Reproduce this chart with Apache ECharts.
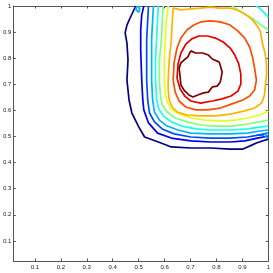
<!DOCTYPE html>
<html><head><meta charset="utf-8">
<script src="https://cdn.jsdelivr.net/npm/echarts@6/dist/echarts.min.js"></script>
<style>html,body{margin:0;padding:0;background:#fff}#c{width:273px;height:273px}</style>
</head><body><div id="c"></div>
<script>
// Tick values
const xTickValues = [0.1,0.2,0.3,0.4,0.5,0.6,0.7,0.8,0.9,1];
const yTickValues = [0.1,0.2,0.3,0.4,0.5,0.6,0.7,0.8,0.9,1];
// Contour level colours (jet, outer -> inner)
const levelColors = ['#000080','#0000e6','#004cff','#00b3ff','#1affe6','#80ff80','#e6ff1a','#ffb300','#ff4d00','#e60000','#800000'];

// Contour lines, [x, y]
const c1 = [[0.489,1.0],[0.478,0.977],[0.467,0.954],[0.455,0.927],[0.448,0.897],[0.455,0.858],[0.459,0.793],[0.455,0.716],[0.463,0.640],[0.474,0.590],[0.501,0.536],[0.523,0.498],[0.576,0.479],[0.626,0.460],[0.701,0.456],[0.777,0.456],[0.853,0.452],[0.902,0.452],[0.920,0.460],[0.936,0.467],[0.954,0.475],[0.977,0.483],[1.0,0.490]];
const c2 = [[0.520,1.0],[0.512,0.966],[0.508,0.908],[0.508,0.831],[0.512,0.716],[0.516,0.640],[0.520,0.602],[0.538,0.552],[0.573,0.513],[0.626,0.494],[0.701,0.483],[0.777,0.479],[0.853,0.479],[0.909,0.483],[0.958,0.494],[1.0,0.502]];
const c3 = [[0.538,1.0],[0.535,0.946],[0.531,0.870],[0.531,0.793],[0.531,0.716],[0.535,0.640],[0.542,0.590],[0.561,0.556],[0.591,0.529],[0.637,0.510],[0.701,0.498],[0.777,0.494],[0.853,0.494],[0.920,0.498],[0.966,0.506],[1.0,0.513]];
const c3b = [[0.958,0.506],[0.983,0.506]];
const c4 = [[0.557,1.0],[0.554,0.946],[0.550,0.870],[0.550,0.793],[0.550,0.716],[0.554,0.640],[0.561,0.594],[0.580,0.563],[0.610,0.540],[0.652,0.525],[0.701,0.513],[0.777,0.510],[0.853,0.510],[0.920,0.513],[0.966,0.521],[1.0,0.525]];
const c4b = [[0.491,0.996],[0.500,0.998],[0.504,0.988],[0.500,0.975],[0.493,0.977],[0.490,0.987],[0.491,0.996]];
const c4c = [[1.0,0.515],[0.990,0.513],[0.984,0.506],[0.990,0.498],[1.0,0.496]];
const c5 = [[0.576,1.0],[0.573,0.946],[0.569,0.870],[0.565,0.793],[0.565,0.716],[0.569,0.648],[0.576,0.609],[0.595,0.579],[0.626,0.556],[0.667,0.540],[0.720,0.529],[0.777,0.525],[0.853,0.525],[0.920,0.529],[0.966,0.536],[1.0,0.540]];
const c5b = [[0.954,1.0],[0.974,0.985],[0.989,0.969],[1.0,0.958]];
const c6 = [[0.595,1.0],[0.591,0.946],[0.588,0.870],[0.580,0.793],[0.580,0.716],[0.584,0.655],[0.591,0.621],[0.610,0.594],[0.641,0.571],[0.686,0.556],[0.739,0.544],[0.796,0.540],[0.860,0.540],[0.920,0.548],[0.966,0.556],[1.0,0.563]];
const c6b = [[0.860,1.0],[0.883,0.985],[0.909,0.969],[0.936,0.954],[0.966,0.931],[1.0,0.908]];
const c7 = [[0.614,1.0],[0.607,0.946],[0.603,0.870],[0.599,0.793],[0.599,0.716],[0.603,0.663],[0.610,0.632],[0.626,0.605],[0.656,0.586],[0.701,0.571],[0.758,0.563],[0.815,0.559],[0.871,0.563],[0.920,0.571],[0.966,0.582],[1.0,0.598]];
const c8 = [[0.633,0.992],[0.663,0.985],[0.701,0.989],[0.739,0.992],[0.777,0.996],[0.815,0.992],[0.853,0.992],[0.879,0.985],[0.902,0.973],[0.920,0.962],[0.939,0.946],[0.958,0.923],[0.970,0.900],[0.977,0.858],[0.989,0.812],[0.993,0.774],[0.993,0.736],[0.989,0.697],[0.985,0.659],[0.974,0.628],[0.947,0.609],[0.909,0.598],[0.853,0.586],[0.796,0.579],[0.739,0.579],[0.686,0.582],[0.648,0.594],[0.629,0.613],[0.618,0.640],[0.614,0.678],[0.614,0.716],[0.618,0.793],[0.626,0.870],[0.629,0.927],[0.633,0.992]];
const c9 = [[0.633,0.716],[0.637,0.785],[0.648,0.839],[0.663,0.877],[0.686,0.908],[0.713,0.927],[0.739,0.939],[0.777,0.943],[0.815,0.939],[0.853,0.927],[0.883,0.904],[0.909,0.877],[0.928,0.843],[0.939,0.805],[0.947,0.762],[0.954,0.716],[0.947,0.678],[0.928,0.655],[0.902,0.640],[0.860,0.625],[0.815,0.609],[0.766,0.602],[0.720,0.602],[0.682,0.613],[0.656,0.636],[0.641,0.670],[0.633,0.716]];
const c10 = [[0.648,0.724],[0.652,0.778],[0.663,0.820],[0.682,0.854],[0.705,0.874],[0.732,0.885],[0.766,0.885],[0.796,0.877],[0.826,0.862],[0.853,0.839],[0.871,0.812],[0.886,0.778],[0.894,0.739],[0.894,0.701],[0.883,0.674],[0.856,0.655],[0.822,0.644],[0.784,0.636],[0.739,0.628],[0.701,0.636],[0.678,0.655],[0.660,0.682],[0.648,0.724]];
const c11 = [[0.701,0.828],[0.720,0.820],[0.747,0.820],[0.769,0.812],[0.784,0.797],[0.811,0.785],[0.822,0.747],[0.815,0.709],[0.803,0.693],[0.784,0.690],[0.769,0.670],[0.750,0.667],[0.728,0.659],[0.709,0.651],[0.694,0.659],[0.675,0.678],[0.663,0.697],[0.660,0.728],[0.656,0.762],[0.663,0.782],[0.675,0.793],[0.690,0.805],[0.701,0.828]];

// [line, level index]
const contourLines = [[c1,0],[c2,1],[c3,2],[c3b,2],[c4,3],[c4b,3],[c4c,3],[c5,4],[c5b,4],[c6,5],[c6b,5],[c7,6],[c8,7],[c9,8],[c10,9],[c11,10]];

const chart = echarts.init(document.getElementById('c'), null, {renderer:'canvas'});
const axisCol = '#555';
const lblFont = {fontSize:6, color:'#222', fontFamily:'Liberation Sans, Arial, sans-serif'};
function mkX(pos, showLabel){
  return {type:'value', position:pos, min:0.017, max:1, splitLine:{show:false},
    axisLine:{show:true, onZero:false, lineStyle:{color:axisCol, width:1}},
    axisTick:{show:true, inside:true, length:2.5, customValues:xTickValues, lineStyle:{color:axisCol}},
    axisLabel:Object.assign({show:showLabel, margin:3, customValues:xTickValues}, lblFont)};
}
function mkY(pos, showLabel){
  return {type:'value', position:pos, min:0.023, max:1, splitLine:{show:false},
    axisLine:{show:true, onZero:false, lineStyle:{color:axisCol, width:1}},
    axisTick:{show:true, inside:true, length:2.5, customValues:yTickValues, lineStyle:{color:axisCol}},
    axisLabel:Object.assign({show:showLabel, margin:2, customValues:yTickValues}, lblFont)};
}
const series = contourLines.map(([pts, lev]) => ({
  type:'line', data:pts, xAxisIndex:0, yAxisIndex:0, showSymbol:false, symbol:'none',
  smooth:false, animation:false, silent:true,
  lineStyle:{color:levelColors[lev], width:1.7}
}));
chart.setOption({
  animation:false,
  grid:{left:9, right:4, top:6, bottom:12, containLabel:false},
  xAxis:[mkX('bottom', true), mkX('top', false)],
  yAxis:[mkY('left', true), mkY('right', false)],
  series
});
</script></body></html>
